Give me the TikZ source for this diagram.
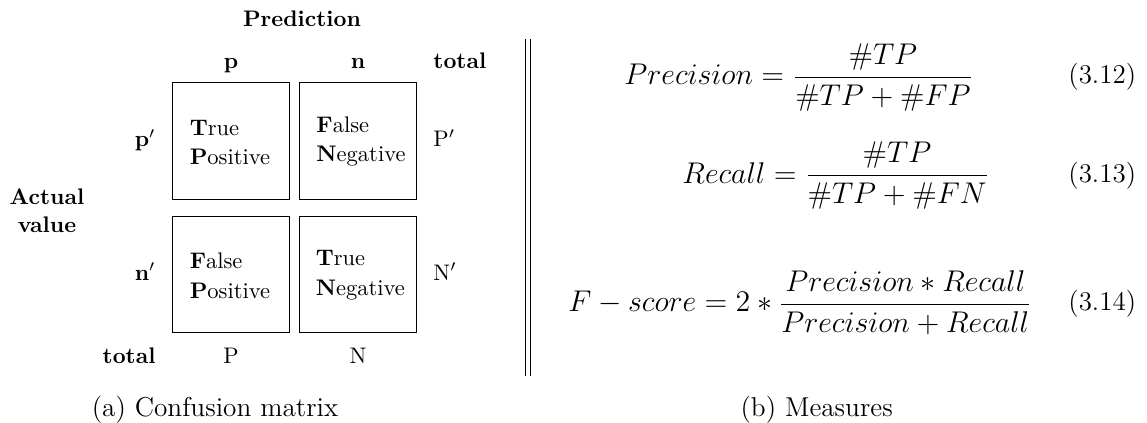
\RequirePackage{fix-cm}
\documentclass[tikz,border=0pt]{standalone}
\begin{document}
\begin{tikzpicture}[x=0.444pt,y=-0.444pt,
  cell/.style={draw, line width=0.5pt, minimum width=51.8pt, minimum height=51.8pt, inner sep=0pt},
  lbl/.style={font=\fontsize{10}{12}\selectfont\bfseries, inner sep=0pt},
  txt/.style={font=\fontsize{10}{13}\selectfont, inner sep=0pt},
  celltxt/.style={font=\fontsize{10}{13}\selectfont, inner sep=0pt, align=left, anchor=north west},
  eq/.style={font=\fontsize{13.3}{16}\selectfont, inner sep=0pt, anchor=base west},
  tag/.style={font=\fontsize{12}{14.5}\selectfont, inner sep=0pt, anchor=base west},
  captxt/.style={font=\fontsize{12.1}{14.5}\selectfont, inner sep=0pt, anchor=base},
  sep/.style={line width=0.4pt}]
\useasboundingbox (0,0) rectangle (1147,423);
% headers
\node[lbl, anchor=base] (pred) at (302,26) {Prediction};
\node[lbl, anchor=base] (colp) at (231,68) {p};
\node[lbl, anchor=base] (coln) at (358,68) {n};
\node[lbl, anchor=base west] (coltot) at (433,68) {total};
\node[lbl, anchor=base east] (rowp) at (156,146.7) {p$'$};
\node[lbl, anchor=base east] (rown) at (156,280) {n$'$};
\node[lbl, anchor=base east] (rowtot) at (156,363) {total};
\node[lbl, align=center, font=\fontsize{10}{12.4}\selectfont\bfseries] (actual) at (47,211) {Actual\\value};
% cells
\node[cell] (tp) at (231,141) {};
\node[cell] (fn) at (357.8,141) {};
\node[cell] (fp) at (231,274.5) {};
\node[cell] (tn) at (357.8,274.5) {};
\node[celltxt] (tptxt) at (189.3,119.6) {\textbf{T}rue\\\textbf{P}ositive};
\node[celltxt] (fntxt) at (316,116.3) {\textbf{F}alse\\\textbf{N}egative};
\node[celltxt] (fptxt) at (189.3,252.9) {\textbf{F}alse\\\textbf{P}ositive};
\node[celltxt] (tntxt) at (315.3,250.3) {\textbf{T}rue\\\textbf{N}egative};
% totals
\node[txt, anchor=base west] (totp) at (433,146.7) {P$'$};
\node[txt, anchor=base west] (totn) at (433,280) {N$'$};
\node[txt, anchor=base] (totP) at (231,363) {P};
\node[txt, anchor=base] (totN) at (358,363) {N};
% separator
\coordinate (s1t) at (525.7,39);
\coordinate (s1b) at (525.7,375.7);
\coordinate (s2t) at (530.7,39);
\coordinate (s2b) at (530.7,375.7);
\draw[sep] (s1t) -- (s1b);
\draw[sep] (s2t) -- (s2b);
% equations
\node[eq] (e1) at (624,84.8) {$\displaystyle Precision = \frac{\#TP}{\#TP+\#FP}$};
\node[eq] (e2) at (682,183.2) {$\displaystyle Recall = \frac{\#TP}{\#TP+\#FN}$};
\node[eq] (e3) at (568,311.5) {$\displaystyle F - score = 2 * \frac{Precision * Recall}{Precision + Recall}$};
\node[tag] (t1) at (1068,84) {(3.12)};
\node[tag] (t2) at (1068,182.5) {(3.13)};
\node[tag] (t3) at (1068,310.8) {(3.14)};
% captions
\node[captxt] (capa) at (215,416) {(a) Confusion matrix};
\node[captxt] (capb) at (816.7,416) {(b) Measures};
\end{tikzpicture}
\end{document}
